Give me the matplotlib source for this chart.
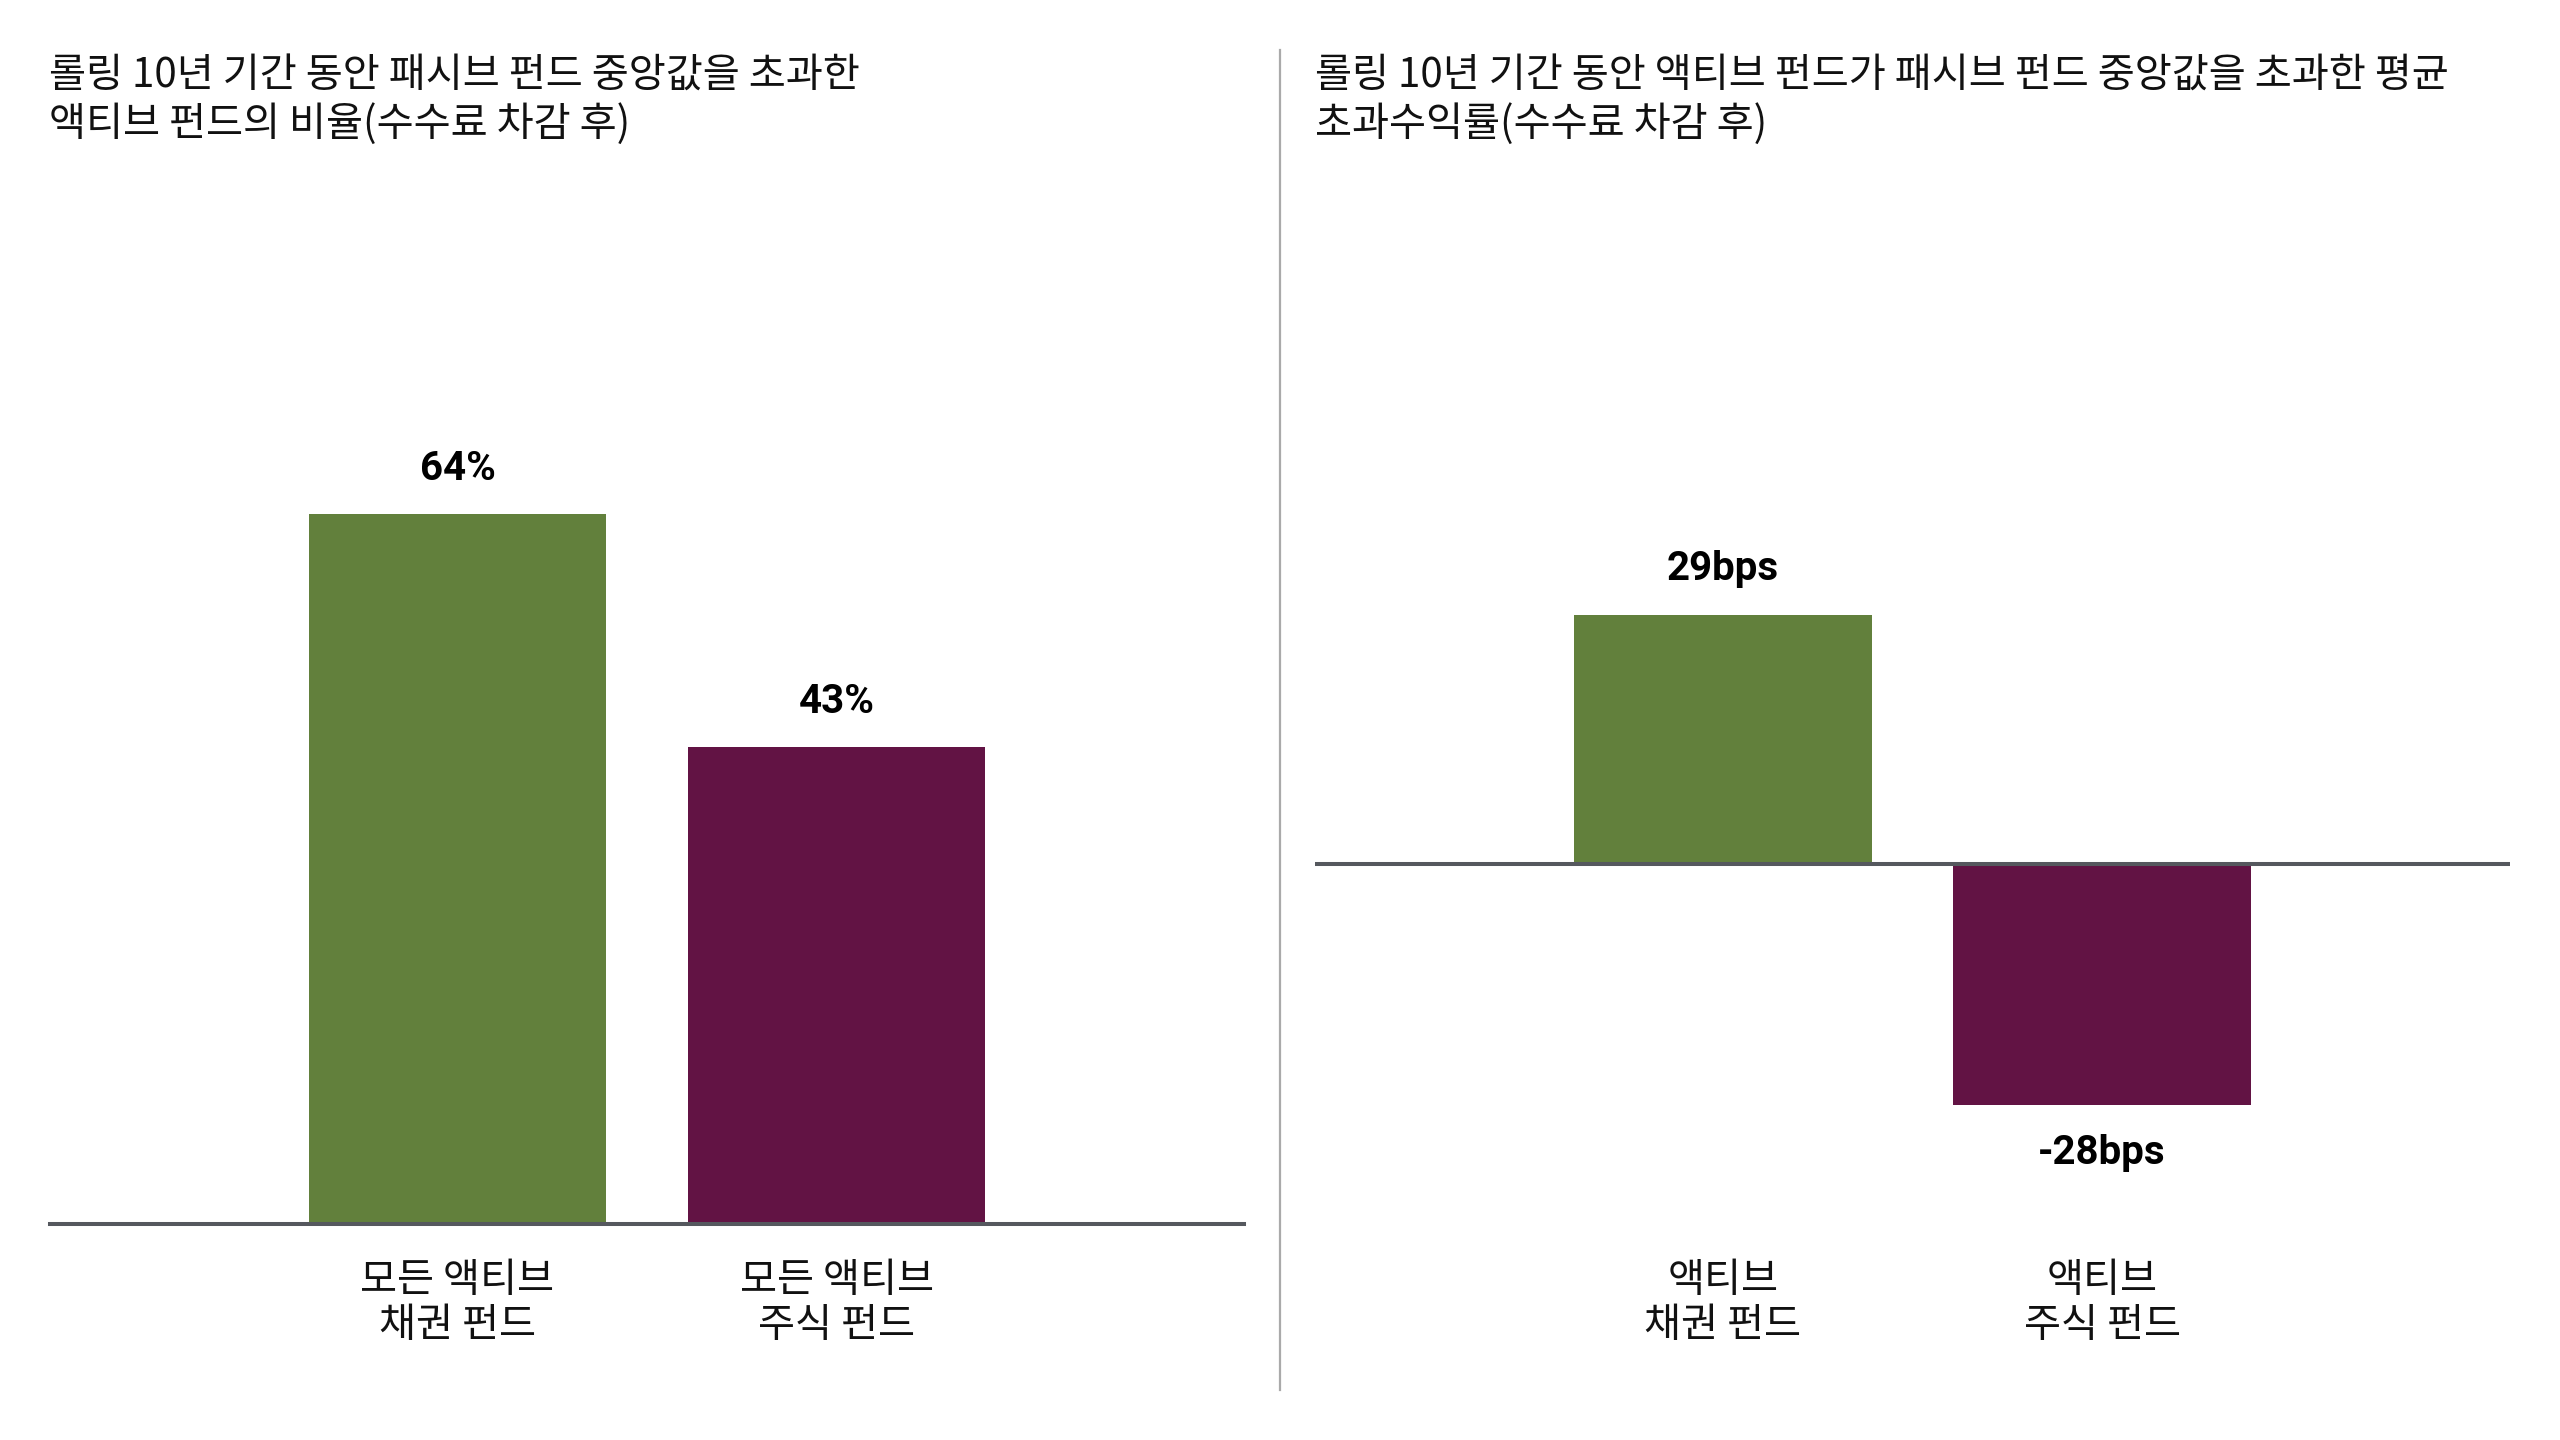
import matplotlib
matplotlib.use("Agg")
import matplotlib.pyplot as plt
from matplotlib.transforms import blended_transform_factory
from matplotlib.lines import Line2D

# ---- data ----
left_title = "롤링 10년 기간 동안 패시브 펀드 중앙값을 초과한\n액티브 펀드의 비율(수수료 차감 후)"
right_title = "롤링 10년 기간 동안 액티브 펀드가 패시브 펀드 중앙값을 초과한 평균\n초과수익률(수수료 차감 후)"
left_categories = ["모든 액티브\n채권 펀드", "모든 액티브\n주식 펀드"]
left_values = [64, 43]          # %
right_categories = ["액티브\n채권 펀드", "액티브\n주식 펀드"]
right_values = [29, -28]        # bps

GREEN = "#62803C"
PURPLE = "#621344"
AXIS = "#55585E"
CJK = ["Noto Sans CJK KR", "DejaVu Sans"]
NUM = ["Roboto", "DejaVu Sans"]

W, H = 2560, 1440
fig = plt.figure(figsize=(W / 100, H / 100), dpi=100)
fig.patch.set_facecolor("white")


def px_axes(x0, x1, ytop, ybot):
    return fig.add_axes([x0 / W, 1 - ybot / H, (x1 - x0) / W, (ybot - ytop) / H])


def style(ax):
    for s in ax.spines.values():
        s.set_visible(False)
    ax.set_xticks([])
    ax.set_yticks([])
    ax.set_xlim(-1.075, 2.075)
    ax.patch.set_alpha(0)


BASE = 1224
# ---- left panel ----
axL = px_axes(50, 1244, 200, BASE)
style(axL)
scaleL = 11.1  # px per %
axL.set_ylim(0, (BASE - 200) / scaleL)
xs = list(range(len(left_values)))
axL.bar(xs, left_values, width=0.784, color=[GREEN, PURPLE], zorder=2)
axL.axhline(0, color=AXIS, lw=2.9, zorder=3, clip_on=False)
for x, v in zip(xs, left_values):
    axL.annotate(f"{v}%", (x, v), xytext=(0, 45 * 0.72), textcoords="offset points",
                 ha="center", va="center", fontsize=29, fontweight="bold",
                 family=NUM, color="black")

# ---- right panel ----
axR = px_axes(1315, 2510, 200, BASE)
style(axR)
scaleR = 8.6  # px per bp
zero = 864
axR.set_ylim(-(BASE - zero) / scaleR, (zero - 200) / scaleR)
xs = list(range(len(right_values)))
axR.bar(xs, right_values, width=0.784, color=[GREEN, PURPLE], zorder=2)
axR.axhline(0, color=AXIS, lw=2.9, zorder=3)
for x, v in zip(xs, right_values):
    off = 46 if v >= 0 else -48
    axR.annotate(f"{v}bps", (x, v), xytext=(0, off * 0.72), textcoords="offset points",
                 ha="center", va="center", fontsize=29, fontweight="bold",
                 family=NUM, color="black")

# ---- category labels ----
ylab = 1 - 1303 / H
for ax, cats in ((axL, left_categories), (axR, right_categories)):
    tr = blended_transform_factory(ax.transData, fig.transFigure)
    for i, c in enumerate(cats):
        ax.text(i, ylab, c, transform=tr, ha="center", va="center",
                fontsize=29, family=CJK, color="#111111", linespacing=1.1)

# ---- titles ----
fig.text(49 / W, 1 - 55 / H, left_title, ha="left", va="top", fontsize=29,
         family=CJK, color="#111111", linespacing=1.2)
fig.text(1315 / W, 1 - 55 / H, right_title, ha="left", va="top", fontsize=29,
         family=CJK, color="#111111", linespacing=1.2)

# ---- divider ----
fig.add_artist(Line2D([1280 / W, 1280 / W], [1 - 50 / H, 1 - 1390 / H],
                      transform=fig.transFigure, color="#AAAAAA", lw=1.6))

fig.savefig("out.png", dpi=100, facecolor="white")
